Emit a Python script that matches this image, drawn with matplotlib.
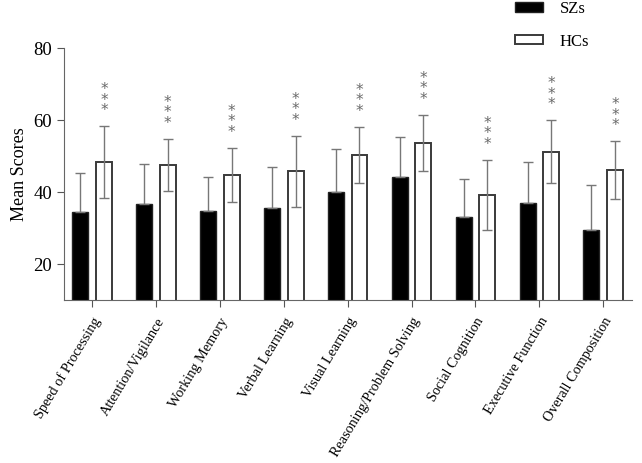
import matplotlib
matplotlib.use("Agg")
import matplotlib.pyplot as plt
import numpy as np

categories = ["Speed of Processing", "Attention/Vigilance", "Working Memory",
              "Verbal Learning", "Visual Learning", "Reasoning/Problem Solving",
              "Social Cognition", "Executive Function", "Overall Composition"]
sz_mean = [34.4, 36.7, 34.8, 35.5, 40.1, 44.3, 33.2, 36.9, 29.5]
sz_sd = [11.0, 11.1, 9.5, 11.4, 11.8, 10.9, 10.3, 11.4, 12.5]
hc_mean = [48.3, 47.5, 44.8, 45.8, 50.3, 53.7, 39.2, 51.2, 46.1]
hc_sd = [10.0, 7.3, 7.5, 9.9, 7.9, 7.8, 9.8, 8.8, 8.1]
yticks = [20, 40, 60, 80]

plt.rcParams['font.family'] = ['Liberation Serif', 'DejaVu Serif']

fig = plt.figure(figsize=(6.42, 4.63), dpi=100)
ax = fig.add_axes([0.0997, 0.352, 0.8847, 0.544])

x = np.arange(len(categories))
w = 0.25
off = 0.185
ecol = '#777777'
ax.bar(x - off, sz_mean, w, color='black', edgecolor='#222222', linewidth=1.0, label='SZs',
       yerr=[np.zeros(len(sz_sd)), sz_sd], error_kw=dict(ecolor=ecol, elinewidth=1.0, capsize=3.5, capthick=1.0))
ax.bar(x + off, hc_mean, w, color='white', edgecolor='#3a3a3a', linewidth=1.4, label='HCs',
       yerr=hc_sd, error_kw=dict(ecolor=ecol, elinewidth=1.0, capsize=3.5, capthick=1.0))

for xi, m, s in zip(x, hc_mean, hc_sd):
    ax.text(xi + off, m + s + 2.2, "*\n*\n*", ha='center', va='bottom', linespacing=0.62,
            fontsize=11, color='#6a6a6a', family='DejaVu Sans')

ax.set_xlim(-0.44, len(categories) - 1 + 0.45)
ax.set_ylim(10, 80)
ax.set_yticks(yticks)
ax.set_xticks(x)
ax.set_xticklabels(categories, rotation=59, ha='right', rotation_mode='anchor', fontsize=10.3)
ax.tick_params(axis='y', labelsize=13.5, color='#555555', length=5)
ax.tick_params(axis='x', color='#555555', length=5, pad=6)
ax.set_ylabel("Mean Scores", fontsize=13)
for sp in ['top', 'right']:
    ax.spines[sp].set_visible(False)
for sp in ['left', 'bottom']:
    ax.spines[sp].set_color('#666666')

h, l = ax.get_legend_handles_labels()
leg = fig.legend(h, l, loc='upper left', bbox_to_anchor=(0.802, 0.998), frameon=False, fontsize=12,
                 borderpad=0, borderaxespad=0, handlelength=1.68, handleheight=0.5,
                 labelspacing=1.0, handletextpad=1.0)

fig.savefig("out.png", dpi=100)
